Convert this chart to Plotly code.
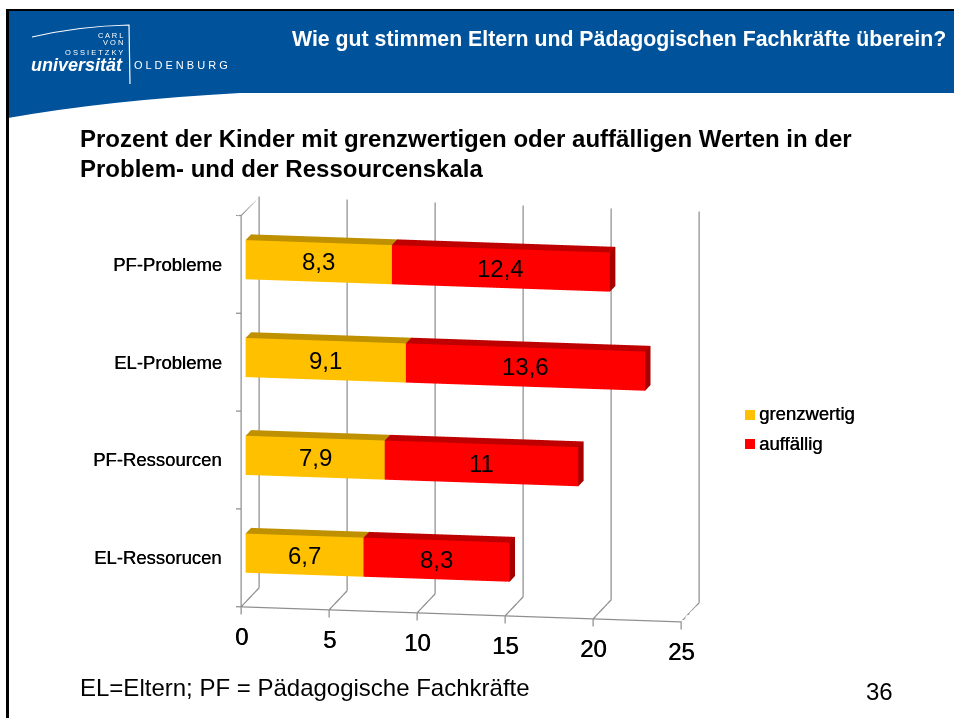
import numpy as np
import plotly.graph_objects as go

W, H = 954, 718
categories = ["EL-Ressorucen", "PF-Ressourcen", "EL-Probleme", "PF-Probleme"]
grenzwertig = [6.7, 7.9, 9.1, 8.3]
auffaellig = [8.3, 11, 13.6, 12.4]
labels_g = ["6,7", "7,9", "9,1", "8,3"]
labels_a = ["8,3", "11", "13,6", "12,4"]
x_ticks = [0, 5, 10, 15, 20, 25]
series_names = ["grenzwertig", "auffällig"]

FONT = "Liberation Sans"
GRID = "#8f8f8f"
THICK = "0.4px 0 0 #000"

# depth axis runs 0..1, bars occupy part of it; z axis has one unit per category
D0, D1 = 0.25, 0.55
BAR_H = 0.40
xr = [-0.3, 25.0]
yr = [0.0, 1.0]
zr = [-0.08, 4.0]

# screen vectors of full axes (pixels, y up): x, depth, z -> used for the camera only
a = np.array([438.5, -15.0])
b = np.array([18.0, 19.0])
c = np.array([0.0, 390.0])
ab, ac, bc = a @ b, a @ c, b @ c
ra = np.sqrt(abs(ab * ac / bc))
rb = -ab / ra
rc = -ac / ra
A, B, C = np.append(a, ra), np.append(b, rb), np.append(c, rc)
LA, LB, LC = [np.linalg.norm(v) for v in (A, B, C)]
w_world = np.array([A[2] / LA, B[2] / LB, C[2] / LC])
v_world = np.array([A[1] / LA, B[1] / LB, C[1] / LC])

SCALE = 1.283  # world units per 390 px
aspect = dict(x=SCALE * LA / 390 * (xr[1] - xr[0]) / 25,
              y=SCALE * LB / 390,
              z=SCALE * LC / 390 * (zr[1] - zr[0]) / 4)
DIST = 2.0
eye = w_world * DIST

fig = go.Figure()


def box(x0, x1, z0, z1, front, top, end, name):
    xs = [x0, x1, x1, x0, x0, x1, x1, x0]
    ys = [D0, D0, D1, D1, D0, D0, D1, D1]
    zs = [z0, z0, z0, z0, z1, z1, z1, z1]
    tri = [
        (0, 1, 5, front), (0, 5, 4, front),
        (4, 5, 6, top), (4, 6, 7, top),
        (1, 2, 6, end), (1, 6, 5, end),
    ]
    fig.add_trace(go.Mesh3d(
        x=xs, y=ys, z=zs,
        i=[t[0] for t in tri], j=[t[1] for t in tri], k=[t[2] for t in tri],
        facecolor=[t[3] for t in tri], flatshading=True,
        lighting=dict(ambient=1, diffuse=0, specular=0, roughness=1, fresnel=0),
        hoverinfo="skip", name=name, showlegend=False))


annos = []
for idx, cat in enumerate(categories):
    zc = idx + 0.5
    g, r = grenzwertig[idx], auffaellig[idx]
    box(0, g, zc - BAR_H / 2, zc + BAR_H / 2, "#FFC000", "#BF9000", "#BF9000", series_names[0])
    box(g, g + r, zc - BAR_H / 2, zc + BAR_H / 2, "#FF0000", "#BF0000", "#A60000", series_names[1])
    annos.append(dict(x=g / 2, y=D0, z=zc, text=labels_g[idx], showarrow=False,
                      font=dict(family=FONT, size=24, color="#000")))
    annos.append(dict(x=g + r / 2, y=D0, z=zc, text=labels_a[idx], showarrow=False,
                      font=dict(family=FONT, size=24, color="#000")))
    annos.append(dict(x=0, y=0, z=zc, text=cat, showarrow=False, xanchor="right", xshift=-17,
                      font=dict(family=FONT, size=18.5, color="#000", shadow=THICK)))

for t in x_ticks:
    annos.append(dict(x=t, y=0, z=0, text=str(t), showarrow=False, yshift=-30,
                      font=dict(family=FONT, size=24, color="#000", shadow=THICK)))

# grid lines
lx, ly, lz = [], [], []


def seg(p, q):
    lx.extend([p[0], q[0], None])
    ly.extend([p[1], q[1], None])
    lz.extend([p[2], q[2], None])


for t in x_ticks:
    seg((t, 1, 0), (t, 1, 4))
    seg((t, 0, 0), (t, 1, 0))
    seg((t, 0, zr[0]), (t, 0, 0))
seg((0, 0, 0), (25, 0, 0))
seg((0, 0, 0), (0, 0, 4))
seg((0, 0, 4), (0, 1, 4))
for i in range(5):
    seg((xr[0], 0, i), (0, 0, i))
fig.add_trace(go.Scatter3d(x=lx, y=ly, z=lz, mode="lines", line=dict(color=GRID, width=2.5),
                           hoverinfo="skip", showlegend=False))

# centre of the box placed through the scene domain
cx = 242 + (a[0] * (xr[1] + xr[0]) / 25 + b[0]) / 2
cy = 606 - (a[1] * (xr[1] + xr[0]) / 25 + b[1] + c[1] * (zr[1] + zr[0]) / 4) / 2
dom_x = [0, min(1, 2 * cx / W)]
dom_y = [0, min(1, 2 * (H - cy) / H)]

ax_off = dict(visible=False, showgrid=False, zeroline=False, showticklabels=False, showspikes=False)
fig.update_layout(
    width=W, height=H, margin=dict(l=0, r=0, t=0, b=0), autosize=False,
    paper_bgcolor="white", showlegend=False,
    scene=dict(
        domain=dict(x=dom_x, y=dom_y),
        xaxis=dict(range=xr, **ax_off), yaxis=dict(range=yr, **ax_off), zaxis=dict(range=zr, **ax_off),
        aspectmode="manual", aspectratio=aspect,
        camera=dict(projection=dict(type="orthographic"),
                    eye=dict(x=eye[0], y=eye[1], z=eye[2]),
                    up=dict(x=v_world[0], y=v_world[1], z=v_world[2]),
                    center=dict(x=0, y=0, z=0)),
        annotations=annos, bgcolor="rgba(0,0,0,0)"),
)


def px(x):
    return x / W


def py(y):
    return 1 - y / H


shapes = [
    dict(type="path", xref="paper", yref="paper", layer="below",
         path=f"M {px(8)} {py(11)} L {px(954)} {py(11)} L {px(954)} {py(93)} L {px(240)} {py(93)} "
              f"Q {px(110)} {py(100)} {px(8)} {py(118)} Z",
         fillcolor="#00529B", line=dict(width=0)),
    dict(type="rect", xref="paper", yref="paper", x0=px(6), x1=px(9), y0=py(718), y1=py(9),
         fillcolor="#000", line=dict(width=0)),
    dict(type="rect", xref="paper", yref="paper", x0=px(6), x1=px(954), y0=py(11), y1=py(9),
         fillcolor="#000", line=dict(width=0)),
    dict(type="rect", xref="paper", yref="paper", x0=px(745), x1=px(755), y0=py(420), y1=py(410),
         fillcolor="#FFC000", line=dict(width=0)),
    dict(type="rect", xref="paper", yref="paper", x0=px(745), x1=px(755), y0=py(449), y1=py(439),
         fillcolor="#FF0000", line=dict(width=0)),
    dict(type="path", xref="paper", yref="paper",
         path=f"M {px(32)} {py(37)} Q {px(80)} {py(26)} {px(129)} {py(25)} L {px(130)} {py(84)}",
         line=dict(color="white", width=1.2)),
]


def text(x, y, s, size, color="#000", bold=False, anchor="left", italic=False, shadow="none"):
    pad = {"left": -2, "right": 2, "center": 0}[anchor]
    fig.add_annotation(x=px(x), y=py(y), xref="paper", yref="paper", text=f"<b>{s}</b>" if bold else s,
                       showarrow=False, xanchor=anchor, yanchor="middle", xshift=pad,
                       font=dict(family=FONT, size=size, color=color, shadow=shadow,
                                 style="italic" if italic else "normal"))


text(946, 39, "Wie gut stimmen Eltern und Pädagogischen Fachkräfte überein?", 21.3, "white", True, "right")
text(80, 139, "Prozent der Kinder mit grenzwertigen oder auffälligen Werten in der", 24, bold=True)
text(80, 168, "Problem- und der Ressourcenskala", 24, bold=True)
text(80, 687, "EL=Eltern; PF = Pädagogische Fachkräfte", 24)
text(879, 691, "36", 24, anchor="center")
text(759, 414, series_names[0], 18.5, shadow=THICK)
text(759, 443, series_names[1], 18.5, shadow=THICK)
text(123, 35, "C A R L", 7.5, "white", anchor="right")
text(123, 43, "V O N", 7.5, "white", anchor="right")
text(123, 52, "O S S I E T Z K Y", 7.5, "white", anchor="right")
text(31, 65, "universität", 18, "white", True, italic=True)
text(134, 65, "O L D E N B U R G", 11, "white")
fig.update_layout(shapes=shapes)
fig.write_html("out.html", post_script="document.body.style.margin='0';",
               config=dict(displayModeBar=False))
